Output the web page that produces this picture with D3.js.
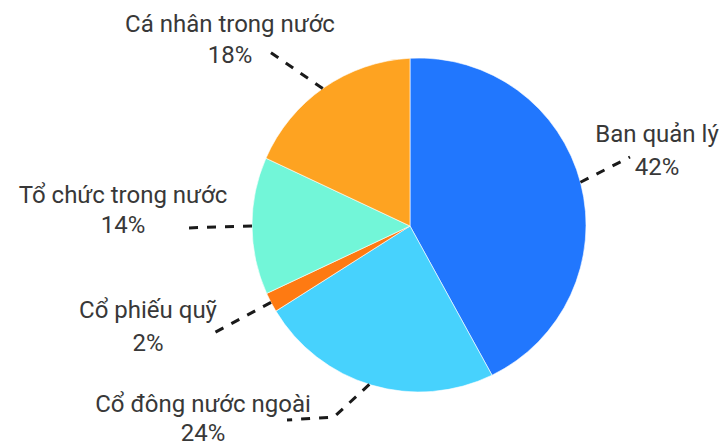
<!DOCTYPE html>
<html>
<head>
<meta charset="utf-8">
<script src="https://cdn.jsdelivr.net/npm/d3@7"></script>
<style>
  html, body { margin: 0; padding: 0; background: #fff; }
  svg { display: block; }
  text { font-family: Roboto, "Noto Sans", sans-serif; fill: #383838; }
</style>
</head>
<body>
<svg id="chart" width="720" height="447"></svg>
<script>
// Shareholder structure, clockwise from 12 o'clock
const categories = ["Ban quản lý", "Cổ đông nước ngoài", "Cổ phiếu quỹ", "Tổ chức trong nước", "Cá nhân trong nước"];
const shares = [42, 24, 2, 14, 18];
const sliceColors = ["#2177fe", "#47d2fd", "#fe7a12", "#72f6d8", "#fea321"];

// Label layout: centre x, first-line baseline, line gap, leader end points
const labelLayout = [
  { x: 657, y: 142, gap: 33, leader: [[630, 157]] },
  { x: 203, y: 412, gap: 29, leader: [[334, 417], [287, 420]] },
  { x: 148, y: 318, gap: 33, leader: [[212, 334]] },
  { x: 123, y: 203, gap: 30, leader: [[185, 228]] },
  { x: 230, y: 32, gap: 31, leader: [[270, 52]] }
];

const svg = d3.select("#chart");

// Rim circle and the hub where the wedges meet (hub sits a little left of the rim centre)
const rim = { x: 419, y: 225, r: 167 };
const hub = { x: 410, y: 226 };

const pie = d3.pie().sort(null).value(d => d)(shares);

// point where a ray from the hub at pie angle a meets the rim
function rimPoint(a) {
  const ux = Math.sin(a), uy = -Math.cos(a);
  const dx = hub.x - rim.x, dy = hub.y - rim.y;
  const b = ux * dx + uy * dy;
  const c = dx * dx + dy * dy - rim.r * rim.r;
  const t = -b + Math.sqrt(b * b - c);
  return [hub.x + t * ux, hub.y + t * uy];
}

function wedgePath(d) {
  const p0 = rimPoint(d.startAngle), p1 = rimPoint(d.endAngle);
  const a0 = Math.atan2(p0[1] - rim.y, p0[0] - rim.x);
  const a1 = Math.atan2(p1[1] - rim.y, p1[0] - rim.x);
  const p = d3.path();
  p.moveTo(hub.x, hub.y);
  p.lineTo(p0[0], p0[1]);
  p.arc(rim.x, rim.y, rim.r, a0, a1, false);
  p.closePath();
  return p.toString();
}

svg.append("g")
  .selectAll("path")
  .data(pie)
  .join("path")
  .attr("d", wedgePath)
  .attr("fill", (d, i) => sliceColors[i])
  .attr("stroke", "#ffffff")
  .attr("stroke-width", 0.6)
  .attr("stroke-linejoin", "round");

// dashed leaders from each wedge's mid-angle on the rim
const line = d3.line();
svg.append("g")
  .selectAll("path")
  .data(pie)
  .join("path")
  .attr("d", (d, i) => {
    const mid = (d.startAngle + d.endAngle) / 2;
    return line([rimPoint(mid), ...labelLayout[i].leader]);
  })
  .attr("fill", "none")
  .attr("stroke", "#1a1a1a")
  .attr("stroke-width", 3)
  .attr("stroke-dasharray", "9,9");

// two-line labels: name and share
const labels = svg.append("g")
  .selectAll("text")
  .data(pie)
  .join("text")
  .attr("text-anchor", "middle")
  .attr("font-size", 24);

labels.append("tspan")
  .attr("x", (d, i) => labelLayout[i].x)
  .attr("y", (d, i) => labelLayout[i].y)
  .text((d, i) => categories[i]);

labels.append("tspan")
  .attr("x", (d, i) => labelLayout[i].x)
  .attr("y", (d, i) => labelLayout[i].y + labelLayout[i].gap)
  .text(d => d.data + "%");
</script>
</body>
</html>
